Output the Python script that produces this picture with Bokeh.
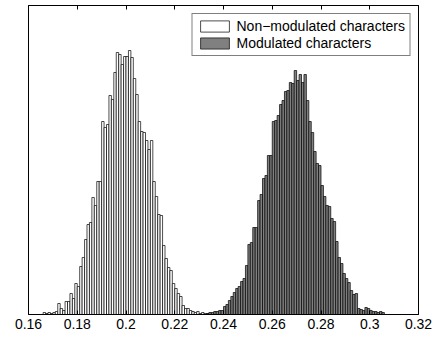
from bokeh.plotting import figure
from bokeh.models import Range1d, FixedTicker, LinearAxis, Legend, LegendItem
from bokeh.embed import file_html
from bokeh.resources import INLINE

# Histogram data (bin width 0.001), heights in relative count units
bin_width = 0.001
white_start = 0.1665
white_counts = [2, 1, 2, 1, 2, 3, 11, 6, 4, 13, 13, 21, 16, 31, 28, 48, 57, 75, 90, 92,
                117, 109, 133, 133, 193, 187, 190, 219, 215, 242, 262, 260, 250, 258, 258,
                264, 257, 236, 220, 193, 183, 182, 174, 165, 174, 133, 118, 100, 99, 69,
                56, 47, 44, 31, 26, 21, 18, 9, 6, 6, 4, 3, 2, 3, 1, 2, 1, 1, 1]
gray_start = 0.2335
gray_counts = [1, 2, 2, 3, 3, 4, 4, 8, 10, 14, 18, 22, 26, 28, 33, 36, 49, 70, 72, 87,
               87, 114, 120, 136, 139, 159, 159, 193, 194, 199, 210, 214, 223, 224, 232,
               231, 244, 234, 240, 232, 240, 214, 193, 182, 163, 151, 149, 129, 118, 109,
               108, 96, 93, 73, 57, 51, 41, 36, 32, 24, 20, 21, 6, 5, 4, 7, 6, 4, 3, 3,
               2, 3, 2]
series_names = ["Non\u2212modulated characters", "Modulated characters"]
tick_values = [0.16, 0.18, 0.20, 0.22, 0.24, 0.26, 0.28, 0.30, 0.32]
tick_labels = ["0.16", "0.18", "0.2", "0.22", "0.24", "0.26", "0.28", "0.3", "0.32"]
y_max = 309

white_x = [round(white_start + bin_width * i, 4) for i in range(len(white_counts))]
gray_x = [round(gray_start + bin_width * i, 4) for i in range(len(gray_counts))]

FONT = "Liberation Sans"

p = figure(width=434, height=336, output_backend="svg", toolbar_location=None,
           x_range=Range1d(0.16, 0.32), y_range=Range1d(0, y_max),
           min_border_left=28, min_border_right=16, min_border_top=5, min_border_bottom=22)
p.grid.visible = False
p.yaxis.visible = False
p.outline_line_color = "black"
p.outline_line_width = 1
p.background_fill_color = "white"

r1 = p.vbar(x=white_x, top=white_counts, width=bin_width, bottom=0,
            fill_color="white", line_color="black", line_width=0.7)
r2 = p.vbar(x=gray_x, top=gray_counts, width=bin_width, bottom=0,
            fill_color="#808080", line_color="black", line_width=0.7)

overrides = {v: s for v, s in zip(tick_values, tick_labels)}
xa = p.xaxis[0]
xa.ticker = FixedTicker(ticks=tick_values)
xa.major_label_overrides = overrides
xa.major_tick_in = 4
xa.major_tick_out = 0
xa.minor_tick_line_color = None
xa.axis_line_color = "black"
xa.major_tick_line_color = "black"
xa.major_label_text_font = FONT
xa.major_label_text_font_size = "14px"
xa.major_label_text_color = "black"
xa.major_label_standoff = 4
xa.axis_label = None
xa.axis_label_standoff = 0

top_axis = LinearAxis(ticker=FixedTicker(ticks=tick_values))
top_axis.major_tick_in = 4
top_axis.major_tick_out = 0
top_axis.minor_tick_line_color = None
top_axis.major_label_text_color = None
top_axis.major_label_text_font_size = "1px"
top_axis.major_label_standoff = 0
top_axis.axis_label = None
top_axis.axis_label_standoff = 0
top_axis.axis_line_color = "black"
p.add_layout(top_axis, "above")

legend = Legend(items=[LegendItem(label=series_names[0], renderers=[r1]),
                       LegendItem(label=series_names[1], renderers=[r2])],
                location="top_right")
legend.label_text_font = FONT
legend.label_text_font_size = "14px"
legend.label_text_color = "black"
legend.glyph_width = 36
legend.glyph_height = 14
legend.label_height = 14
legend.label_standoff = 4
legend.spacing = 1
legend.padding = 4
legend.margin = 8
legend.border_line_color = "black"
legend.border_line_width = 1
legend.background_fill_alpha = 1
p.add_layout(legend)

open("out.html", "w").write(file_html(p, INLINE))
